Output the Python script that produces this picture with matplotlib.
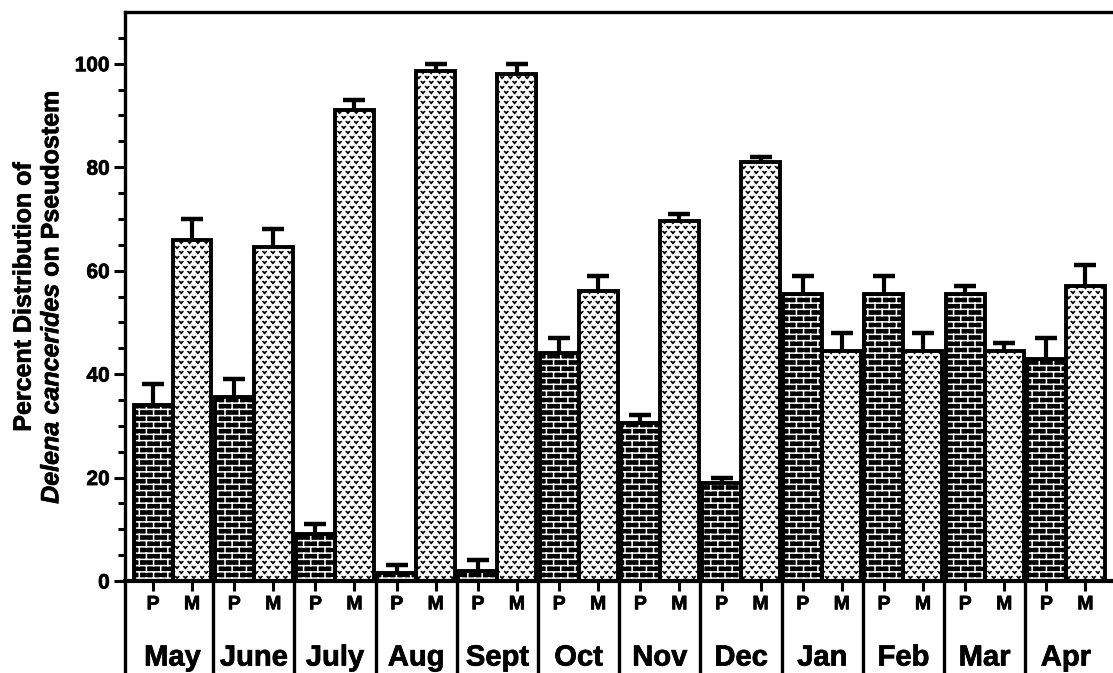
import warnings
import numpy as np
import matplotlib
matplotlib.use('Agg')
import matplotlib.pyplot as plt
import matplotlib.patheffects as pe
from matplotlib import hatch as mhatch
from matplotlib.path import Path

# custom hatch letters ('b' bricks, 'v' speckle) are not in matplotlib's list
warnings.filterwarnings('ignore', message='hatch must consist')

months = ['May', 'June', 'July', 'Aug', 'Sept', 'Oct', 'Nov', 'Dec',
          'Jan', 'Feb', 'Mar', 'Apr']
p_vals = [34, 35.5, 9, 1.5, 2, 44, 30.5, 19, 55.5, 55.5, 55.5, 43]
m_vals = [66, 64.5, 91, 98.5, 98, 56, 69.5, 81, 44.5, 44.5, 44.5, 57]
p_err = [4, 3.5, 2, 1.5, 2, 3, 1.5, 1, 3.5, 3.5, 1.5, 4]
m_err = [4, 3.5, 2, 1.5, 2, 3, 1.5, 1, 3.5, 3.5, 1.5, 4]


class BrickHatch(mhatch.HatchPatternBase):
    """'b': staggered brick courses."""
    rows, cols = 16, 7

    def __init__(self, hatch, density):
        segs = []
        if 'b' in hatch:
            for k in range(self.rows):
                y0 = (k + 0.5) / self.rows
                y1 = y0 + 1 / self.rows
                segs.append(((0, y0), (1, y0)))
                shift = 0.5 * (k % 2)
                for j in range(self.cols):
                    xv = (j + 0.25 + shift) / self.cols
                    segs.append(((xv, y0), (xv, y1)))
                    if y1 > 1:
                        segs.append(((xv, y0 - 1), (xv, y1 - 1)))
        self.segs = segs
        self.num_vertices = 2 * len(segs)

    def set_vertices_and_codes(self, vertices, codes):
        for i, (a, b) in enumerate(self.segs):
            vertices[2 * i] = a
            vertices[2 * i + 1] = b
            codes[2 * i] = Path.MOVETO
            codes[2 * i + 1] = Path.LINETO


class VHatch(mhatch.HatchPatternBase):
    """'v': small v-shaped speckles in offset rows."""
    rows, cols = 20, 12
    w, h = 0.032, 0.018

    def __init__(self, hatch, density):
        self.on = 'v' in hatch
        self.num_vertices = 3 * self.rows * self.cols if self.on else 0

    def set_vertices_and_codes(self, vertices, codes):
        i = 0
        for k in range(self.rows):
            cy = (k + 0.5) / self.rows
            for j in range(self.cols):
                cx = (j + 0.25 + 0.5 * (k % 2)) / self.cols
                vertices[i:i + 3] = [(cx - self.w / 2, cy + self.h / 2),
                                     (cx, cy - self.h / 2),
                                     (cx + self.w / 2, cy + self.h / 2)]
                codes[i:i + 3] = [Path.MOVETO, Path.LINETO, Path.LINETO]
                i += 3


mhatch._hatch_types.extend([BrickHatch, VHatch])

plt.rcParams['font.family'] = 'Liberation Sans'
plt.rcParams['font.weight'] = 'bold'
plt.rcParams['mathtext.fontset'] = 'custom'
plt.rcParams['mathtext.it'] = 'Liberation Sans:italic:bold'
plt.rcParams['mathtext.rm'] = 'Liberation Sans:bold'
plt.rcParams['hatch.linewidth'] = 1.1

heavy = [pe.withStroke(linewidth=0.5, foreground='black')]

fig = plt.figure(figsize=(11.13, 6.73), dpi=100)
ax = fig.add_axes([125 / 1113, 1 - 581 / 673, 1 - 125 / 1113, 569 / 673])

n = len(months)
x = np.arange(n)
off, w = 0.24, 0.48
xp, xm = x - off, x + off

# upper error bars only, tucked under the bars
for xs, vals, err in [(xp, p_vals, p_err), (xm, m_vals, m_err)]:
    eb = ax.errorbar(xs, vals, yerr=[np.zeros(n), err], fmt='none',
                     ecolor='black', elinewidth=3, capsize=8,
                     capthick=3.2, zorder=1)
    eb.lines[1][0].set_visible(False)

ax.bar(xp, p_vals, w, color='black', edgecolor='white', hatch='b',
       linewidth=0, zorder=2)
ax.bar(xp, p_vals, w, facecolor='none', edgecolor='black',
       linewidth=2.8, zorder=3)
ax.bar(xm, m_vals, w, color='white', edgecolor='black', hatch='v',
       linewidth=2.8, zorder=2)

ax.set_xlim(-0.585, 11.58)
ax.set_ylim(0, 110)
ax.set_yticks(np.arange(0, 101, 20))
ax.set_yticks(np.arange(0, 110, 5), minor=True)
ax.tick_params(axis='y', which='major', length=8, width=2.2, labelsize=15, pad=3)
ax.tick_params(axis='y', which='minor', length=5, width=2.2)

ax.set_xticks(np.concatenate([xp, xm]))
ax.set_xticklabels(['P'] * n + ['M'] * n)
ax.tick_params(axis='x', length=7, width=2.2, labelsize=14, pad=4)

for lab in ax.get_xticklabels() + ax.get_yticklabels():
    lab.set_path_effects(heavy)

ax.spines['right'].set_visible(False)
ax.spines['left'].set_linewidth(2.4)
ax.spines['top'].set_linewidth(2.4)
ax.spines['bottom'].set_linewidth(3)
ax.spines['left'].set_bounds(-20, 110)

# month boxes under the P/M ticks
ax.vlines(x[:-1] + 0.5, -20, 0, colors='black', linewidth=2.4, clip_on=False)
for i, m in enumerate(months):
    ax.text(i, -14.8, m, ha='center', va='center', fontsize=21,
            fontweight='bold', clip_on=False, path_effects=heavy)

fig.text(37.5 / 1113, 1 - 297 / 673,
         'Percent Distribution of\n$\\mathit{Delena\\ cancerides}$ on Pseudostem',
         rotation=90, ha='center', va='center', multialignment='center',
         fontsize=18, fontweight='bold', path_effects=heavy)

fig.savefig('out.png', dpi=100)
